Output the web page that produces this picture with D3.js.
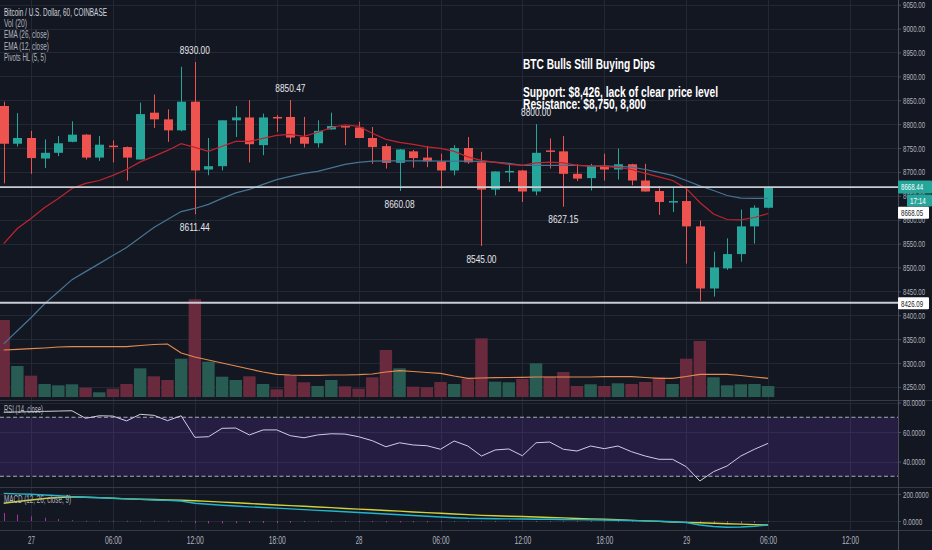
<!DOCTYPE html>
<html lang="en">
<head>
<meta charset="UTF-8">
<title>BTC Bulls Still Buying Dips</title>
<script src="https://cdnjs.cloudflare.com/ajax/libs/d3/7.8.5/d3.min.js"></script>
<style>
    body { margin: 0; background: #131722; }
    svg { display: block; font-family: "Liberation Sans Narrow", "Liberation Sans", Roboto, sans-serif; }
</style>
</head>
<body>
<svg id="chart" width="932" height="550"></svg>
<script>
// hourly candles; hour 0 = the 27th 00:00, first visible candle is two hours before
const firstHour = -2;
const opens  = [8838,8759,8771,8728,8740,8763,8778,8730,8755,8752,8726,8824,8810,8787,8847,8705,8712,8808,8814,8756,8815,8815,8773,8760,8789,8796,8793,8771,8754,8719,8743,8730,8722,8703,8750,8720,8663,8700,8703,8659,8745,8743,8696,8687,8713,8705,8716,8682,8660,8636,8639,8586,8456,8498,8528,8586,8625];
const highs  = [8847,8823,8786,8768,8775,8806,8779,8775,8766,8753,8845,8862,8831,8920,8930,8771,8808,8838,8850,8822,8819,8850.47,8815,8808,8824,8797,8805,8794,8759,8748,8746,8754,8738,8756,8773,8742,8701,8716,8704,8800,8770,8775,8716,8717,8738,8749,8717,8717,8670,8668,8668,8598,8533,8561,8621,8630,8669];
const lows   = [8676,8753,8696,8708,8733,8762,8726,8723,8720,8682,8726,8792,8763,8785,8611.44,8693,8703,8773,8720,8735,8784,8759,8751,8751,8788,8756,8771,8717,8707,8660.08,8709,8710,8665,8693,8717,8545,8651,8679,8637,8651,8707,8627.15,8681,8661,8682,8684,8672,8659,8610,8616,8508,8430,8439,8495,8512,8550,8624];
const closes = [8759,8771,8729,8740,8760,8778,8730,8757,8753,8730,8821,8810,8787,8847,8703,8712,8808,8814,8758,8814,8813,8772,8759,8786,8796,8793,8771,8752,8719,8747,8729,8722,8703,8750,8720,8663,8701,8702,8659,8740,8742,8696,8686,8712,8705,8716,8682,8659,8637,8639,8586,8456,8500,8528,8586,8625,8668.44];
const volumes = [770,310,213,130,117,127,93,47,83,130,287,207,170,383,977,353,203,170,207,130,77,220,147,110,170,107,83,197,470,287,103,97,150,130,180,587,153,147,180,337,203,250,110,127,110,137,130,150,197,130,383,560,197,117,127,130,110];
const volumeMA = [470,477,483,490,500,503,503,503,503,503,515,525,530,440,400,370,340,310,280,250,227,220,217,217,220,220,223,230,250,263,255,245,237,210,187,190,193,195,197,200,200,200,200,200,203,203,203,195,187,187,205,227,227,227,215,200,187];
const ema12 = [8550,8581.5,8602.5,8625.6,8644.5,8665.4,8676,8682,8692.7,8705,8721,8732.6,8745,8759,8751.5,8743,8753.6,8764,8764,8770.3,8776.6,8778.7,8774.5,8783,8792.4,8798.7,8795.5,8780.8,8768.2,8762,8757.8,8752.5,8749.4,8743,8731.5,8724.2,8720,8715.8,8713.7,8719,8720.6,8719,8713.7,8712.6,8711.6,8709.5,8705,8697,8689.6,8682,8665.4,8636,8612,8600.4,8599.8,8604.6,8613];
const ema26 = [8340,8367.5,8394.8,8424,8449.3,8474.5,8491.3,8508,8525,8541.7,8562.6,8583.6,8600.4,8617,8623.5,8632,8644.5,8656,8663.3,8673.8,8683.7,8690.6,8697,8701,8708.4,8715.8,8720,8722.7,8723,8723,8723,8723,8722.7,8722.7,8722.7,8722,8720.6,8718,8713.7,8713.7,8713.7,8713.7,8713.7,8712.6,8712.2,8711.6,8710,8705,8699,8692.7,8682,8670.7,8661.2,8650.7,8645,8644.5,8644.5];
const rsi = [73.4,73.6,73.8,74,74.2,74.4,69.3,71,70.8,67.5,72,71.3,67.7,71,56.4,56.8,62.5,62.7,58,61.4,61.4,57.5,56.1,58,58.8,58.6,56.8,54.1,50,52.7,51.2,50.7,48.3,53.9,50.5,43.7,47.8,48.5,43.9,52.7,53.2,48.3,47.1,50.5,48.7,50.5,46.6,43.7,41.5,41.5,36.5,26.8,33.1,37,43.7,48.3,52.3];
const macd = [205,201,198,193,187,180,176,172,168,164,160,156,153,148,131,124,117,111,105,100,95,90,84,79,74,68,63,57,52,46,41,35,30,24,20,19,17,16,15,13,13,11,10,9,7,6,4,1,-2,-6,-11,-30,-41,-46,-44,-39,-30];
const signal = [131,144,156,167,174,180,176,173,168,164,161,159,156,154,150,145,140,135,130,124,119,114,109,104,99,93,88,83,78,73,67,62,57,52,47,42,39,35,33,30,26,23,19,16,13,9,5,1,-3,-7,-10,-13,-17,-20,-23,-27,-30];
const histogram = [60,48,35,24,14,6,2,2,2,2,2,2,2,2,-16,-18,-18,-17,-16,-15,-14,-12,-6,-6,-6,-6,-6,-8,-10,-10,-10,-10,-10,-6,-5,-5,-5,-4,-4,-3,-3,-3,-3,-3,-3,-3,-3,-3,-4,-6,-10,-17,-24,-26,-22,-14,-5];

const pivotHighHours = [12, 19, 37];
const pivotHighValues = [8930.00, 8850.47, 8800.00];
const pivotLowHours = [12, 27, 33, 39];
const pivotLowValues = [8611.44, 8660.08, 8545.00, 8627.15];

const levelLines = [8668.05, 8426.09];
const lastPrice = 8668.44;
const countdown = "17:14";

const xTickHours = [0, 6, 12, 18, 24, 30, 36, 42, 48, 54, 60];
const xTickLabels = ["27", "06:00", "12:00", "18:00", "28", "06:00", "12:00", "18:00", "29", "06:00", "12:00"];
const rsiTicks = [40, 60, 80];
const rsiBands = [30, 70];
const macdTicks = [0, 200];

const legendLines = ["Bitcoin / U.S. Dollar, 60, COINBASE", "Vol (20)", "EMA (26, close)", "EMA (12, close)", "Pivots HL (5, 5)"];
const noteLines = ["BTC Bulls Still Buying Dips", "Support: $8,426, lack of clear price level", "Resistance: $8,750, 8,800"];

const W = 932, H = 550, axisX = 898;
const up = "#26a69a", down = "#ef5350";
const volUp = "#285c53", volDown = "#6a2a3e";
const gridColor = "#242834", textColor = "#b2b5be";

const hours = d3.range(firstHour, firstHour + opens.length);
const bars = hours.map((h, i) => ({
    h: h, o: opens[i], hi: highs[i], lo: lows[i], c: closes[i],
    v: volumes[i], vma: volumeMA[i], e12: ema12[i], e26: ema26[i],
    rsi: rsi[i], macd: macd[i], sig: signal[i], hist: histogram[i]
}));

const x = d3.scaleLinear().domain([0, 60]).range([31, 850]);
const yPrice = d3.scaleLinear().domain([8250, 9050]).range([386.9, 4.7]);
const yVol = d3.scaleLinear().domain([0, 1000]).range([397, 297]);
const yRsi = d3.scaleLinear().domain([40, 80]).range([461.5, 402.5]);
const yMacd = d3.scaleLinear().domain([0, 200]).range([521, 494]);

// squeeze text to the narrow TradingView look
function narrow(sel, perChar) {
    sel.attr("lengthAdjust", "spacingAndGlyphs")
       .attr("textLength", function() { return this.textContent.length * perChar; });
}

const svg = d3.select("#chart");
svg.append("rect").attr("width", W).attr("height", H).attr("fill", "#131722");

const defs = svg.append("defs");
[["clipMain", 0, 400], ["clipRsi", 400, 487], ["clipMacd", 487, 530]].forEach(c => {
    defs.append("clipPath").attr("id", c[0]).append("rect")
        .attr("x", 0).attr("y", c[1]).attr("width", axisX).attr("height", c[2] - c[1]);
});

// grid
const grid = svg.append("g").attr("stroke", gridColor).attr("stroke-width", 1);
grid.selectAll(".vg").data(xTickHours).join("line")
    .attr("x1", d => Math.round(x(d)) + 0.5).attr("x2", d => Math.round(x(d)) + 0.5)
    .attr("y1", 0).attr("y2", 530);
grid.selectAll(".hg").data(yPrice.ticks(16)).join("line")
    .attr("x1", 0).attr("x2", axisX)
    .attr("y1", d => Math.round(yPrice(d)) + 0.5).attr("y2", d => Math.round(yPrice(d)) + 0.5);
grid.selectAll(".rg").data(rsiTicks).join("line")
    .attr("x1", 0).attr("x2", axisX)
    .attr("y1", d => Math.round(yRsi(d)) + 0.5).attr("y2", d => Math.round(yRsi(d)) + 0.5);
grid.selectAll(".mg").data(macdTicks).join("line")
    .attr("x1", 0).attr("x2", axisX)
    .attr("y1", d => Math.round(yMacd(d)) + 0.5).attr("y2", d => Math.round(yMacd(d)) + 0.5);

// main pane
const main = svg.append("g").attr("clip-path", "url(#clipMain)");

main.selectAll(".vol").data(bars).join("rect")
    .attr("x", d => x(d.h) - 6.2).attr("width", 12.4)
    .attr("y", d => yVol(d.v)).attr("height", d => yVol(0) - yVol(d.v))
    .attr("fill", d => d.c >= d.o ? volUp : volDown);

main.append("path").datum(bars)
    .attr("fill", "none").attr("stroke", "#e58a4e").attr("stroke-width", 1.2)
    .attr("d", d3.line().x(d => x(d.h)).y(d => yVol(d.vma)));

main.selectAll(".wick").data(bars).join("line")
    .attr("x1", d => Math.round(x(d.h)) + 0.5).attr("x2", d => Math.round(x(d.h)) + 0.5)
    .attr("y1", d => yPrice(d.hi)).attr("y2", d => yPrice(d.lo))
    .attr("stroke", d => d.c >= d.o ? up : down).attr("stroke-width", 1);

main.selectAll(".body").data(bars).join("rect")
    .attr("x", d => Math.round(x(d.h)) - 4).attr("width", 9)
    .attr("y", d => yPrice(Math.max(d.o, d.c)))
    .attr("height", d => Math.max(1.5, Math.abs(yPrice(d.o) - yPrice(d.c))))
    .attr("fill", d => d.c >= d.o ? up : down);

main.append("path").datum(bars)
    .attr("fill", "none").attr("stroke", "#477494").attr("stroke-width", 1.2)
    .attr("d", d3.line().x(d => x(d.h)).y(d => yPrice(d.e26)));
main.append("path").datum(bars)
    .attr("fill", "none").attr("stroke", "#c0242e").attr("stroke-width", 1.2)
    .attr("d", d3.line().x(d => x(d.h)).y(d => yPrice(d.e12)));

svg.selectAll(".level").data(levelLines).join("line")
    .attr("x1", 0).attr("x2", axisX)
    .attr("y1", d => yPrice(d)).attr("y2", d => yPrice(d))
    .attr("stroke", "#c9ccd3").attr("stroke-width", 1.8);

// pivot labels
const pivotStyle = sel => sel.attr("text-anchor", "middle").attr("fill", "#e4e6eb")
    .attr("font-size", 11.5).call(narrow, 4.3);
svg.selectAll(".ph").data(pivotHighHours).join("text")
    .attr("x", d => x(d)).attr("y", (d, i) => yPrice(pivotHighValues[i]) - 8.4)
    .text((d, i) => pivotHighValues[i].toFixed(2)).call(pivotStyle);
svg.selectAll(".pl").data(pivotLowHours).join("text")
    .attr("x", d => x(d)).attr("y", (d, i) => yPrice(pivotLowValues[i]) + 16.7)
    .text((d, i) => pivotLowValues[i].toFixed(2)).call(pivotStyle);

// the author's note
const noteWidths = [132, 195, 123];
const noteY = [69.3, 96.7, 109.3];
svg.selectAll(".note").data(noteLines).join("text")
    .attr("x", 523).attr("y", (d, i) => noteY[i])
    .attr("fill", "#ffffff").attr("font-weight", "bold").attr("font-size", 14.5)
    .attr("lengthAdjust", "spacingAndGlyphs").attr("textLength", (d, i) => noteWidths[i])
    .text(d => d);

// RSI pane
const rsiG = svg.append("g").attr("clip-path", "url(#clipRsi)");
rsiG.append("rect").attr("x", 0).attr("width", axisX)
    .attr("y", yRsi(rsiBands[1])).attr("height", yRsi(rsiBands[0]) - yRsi(rsiBands[1]))
    .attr("fill", "#673ab7").attr("opacity", 0.22);
rsiG.selectAll(".band").data(rsiBands).join("line")
    .attr("x1", 0).attr("x2", axisX)
    .attr("y1", d => yRsi(d)).attr("y2", d => yRsi(d))
    .attr("stroke", "#a9acb4").attr("stroke-dasharray", "4,2.5").attr("stroke-width", 1);
rsiG.append("path").datum(bars)
    .attr("fill", "none").attr("stroke", "#d4cbe8").attr("stroke-width", 1)
    .attr("d", d3.line().x(d => x(d.h)).y(d => yRsi(d.rsi)));

// MACD pane
const macdG = svg.append("g").attr("clip-path", "url(#clipMacd)");
macdG.selectAll(".hist").data(bars).join("rect")
    .attr("x", d => Math.round(x(d.h))).attr("width", 1)
    .attr("y", d => Math.min(yMacd(0), yMacd(d.hist)))
    .attr("height", d => Math.max(1, Math.abs(yMacd(d.hist) - yMacd(0))))
    .attr("fill", d => Math.abs(d.hist) >= 8 ? "#a8329e" : "#5d606b");
macdG.append("path").datum(bars)
    .attr("fill", "none").attr("stroke", "#cfd13a").attr("stroke-width", 1.4)
    .attr("d", d3.line().x(d => x(d.h)).y(d => yMacd(d.sig)));
macdG.append("path").datum(bars)
    .attr("fill", "none").attr("stroke", "#22b5cc").attr("stroke-width", 1.4)
    .attr("d", d3.line().x(d => x(d.h)).y(d => yMacd(d.macd)));

// pane separators
svg.selectAll(".sep").data([400, 487, 530]).join("line")
    .attr("x1", 0).attr("x2", W).attr("y1", d => d + 0.5).attr("y2", d => d + 0.5)
    .attr("stroke", "#363a45").attr("stroke-width", 1);

// legends
const legendY = [15.7, 27, 38.3, 49.5, 61];
const legendW = [103, 23, 45, 45, 42];
svg.selectAll(".legend").data(legendLines).join("text")
    .attr("x", 4).attr("y", (d, i) => legendY[i])
    .attr("fill", (d, i) => i === 0 ? "#d1d4dc" : textColor).attr("font-size", 10)
    .attr("lengthAdjust", "spacingAndGlyphs").attr("textLength", (d, i) => legendW[i])
    .text(d => d);
svg.append("text").attr("x", 4).attr("y", 412.7).attr("fill", textColor).attr("font-size", 10)
    .attr("lengthAdjust", "spacingAndGlyphs").attr("textLength", 39).text("RSI (14, close)");
svg.append("text").attr("x", 4).attr("y", 503.3).attr("fill", textColor).attr("font-size", 10)
    .attr("lengthAdjust", "spacingAndGlyphs").attr("textLength", 67).text("MACD (12, 26, close, 9)");

// axes
function styleAxis(g) {
    g.select(".domain").remove();
    g.selectAll("line").attr("stroke", "#4a4e59");
    g.selectAll("text").attr("fill", textColor).attr("font-size", 9.5)
        .attr("font-family", "\"Liberation Sans Narrow\", \"Liberation Sans\", Roboto, sans-serif");
}
svg.append("g").attr("transform", `translate(${axisX},0)`)
    .call(d3.axisRight(yPrice).ticks(16).tickFormat(d3.format(".2f")).tickSize(3).tickPadding(2))
    .call(styleAxis).call(g => g.selectAll("text").call(narrow, 3.15));
svg.append("g").attr("transform", `translate(${axisX},0)`)
    .call(d3.axisRight(yRsi).tickValues(rsiTicks).tickFormat(d3.format(".4f")).tickSize(3).tickPadding(2))
    .call(styleAxis).call(g => g.selectAll("text").call(narrow, 3.15));
svg.append("g").attr("transform", `translate(${axisX},0)`)
    .call(d3.axisRight(yMacd).tickValues(macdTicks).tickFormat(d3.format(".4f")).tickSize(3).tickPadding(2))
    .call(styleAxis).call(g => g.selectAll("text").call(narrow, 3.2));
svg.append("g").attr("transform", "translate(0,530)")
    .call(d3.axisBottom(x).tickValues(xTickHours).tickFormat((d, i) => xTickLabels[i]).tickSize(0).tickPadding(7))
    .call(styleAxis).call(g => g.selectAll("text").attr("font-size", 10).call(narrow, 3.4));

svg.append("line").attr("x1", axisX + 0.5).attr("x2", axisX + 0.5).attr("y1", 0).attr("y2", H)
    .attr("stroke", "#4a4e59");

// price tags on the scale
function tag(y, w, h, x0, fill, color, label) {
    svg.append("rect").attr("x", x0).attr("y", y).attr("width", w).attr("height", h)
        .attr("fill", fill).attr("rx", 1);
    svg.append("text").attr("x", x0 + 3).attr("y", y + h / 2).attr("dy", "0.35em")
        .attr("fill", color).attr("font-size", 9.5).text(label).call(narrow, 3.15);
}
tag(yPrice(lastPrice) - 6.5, 34, 13, axisX, up, "#ffffff", lastPrice.toFixed(2));
tag(yPrice(lastPrice) + 7.5, 25, 12, 907, up, "#ffffff", countdown);
tag(yPrice(levelLines[0]) + 19.5, 31, 12, axisX, "#ffffff", "#131722", levelLines[0].toFixed(2));
tag(yPrice(levelLines[1]) - 5.5, 31, 12, axisX, "#ffffff", "#131722", levelLines[1].toFixed(2));
</script>
</body>
</html>
